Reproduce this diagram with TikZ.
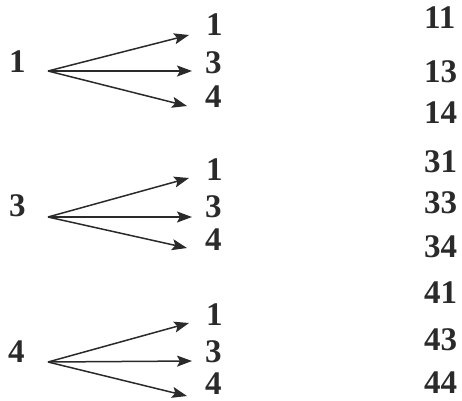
\documentclass[tikz,border=0pt]{standalone}
\usepackage{fontspec}
\setmainfont{Liberation Serif}
\usetikzlibrary{arrows.meta}
\definecolor{ink}{HTML}{2A2A2A}
\tikzset{
  num/.style={inner sep=0pt, anchor=base west, text=ink, font=\bfseries\fontsize{33}{33}\selectfont},
  arr/.style={draw=ink, line width=1.5pt, -{Stealth[length=15pt,width=11pt,inset=3pt]}}
}
\begin{document}
\begin{tikzpicture}[x=1pt,y=-1pt]
\useasboundingbox (0,0) rectangle (462,400);
% group 1
\node[num] (a) at (9,72) {1};
\coordinate (sa) at (48,71);
\node[num] (a1) at (206,35) {1};
\node[num] (a3) at (205,73) {3};
\node[num] (a4) at (205,107) {4};
\draw[arr] (sa) -- ([xshift=-17pt]a1.base west);
\draw[arr] (sa) -- ([xshift=-13pt,yshift=2pt]a3.base west);
\draw[arr] (sa) -- ([xshift=-18pt,yshift=1pt]a4.base west);
% group 2
\node[num] (b) at (9,216) {3};
\coordinate (sb) at (48,217);
\node[num] (b1) at (206,180) {1};
\node[num] (b3) at (205,217) {3};
\node[num] (b4) at (205,250) {4};
\draw[arr] (sb) -- ([xshift=-17pt,yshift=2pt]b1.base west);
\draw[arr] (sb) -- ([xshift=-13pt]b3.base west);
\draw[arr] (sb) -- ([xshift=-18pt,yshift=2pt]b4.base west);
% group 3
\node[num] (c) at (8,362) {4};
\coordinate (sc) at (48,362);
\node[num] (c1) at (206,325) {1};
\node[num] (c3) at (205,362) {3};
\node[num] (c4) at (205,394) {4};
\draw[arr] (sc) -- ([xshift=-17pt,yshift=2pt]c1.base west);
\draw[arr] (sc) -- ([xshift=-13pt,yshift=1pt]c3.base west);
\draw[arr] (sc) -- ([xshift=-18pt,yshift=-2pt]c4.base west);
% right column
\node[num] (r11) at (424,28) {11};
\node[num] (r13) at (424,82) {13};
\node[num] (r14) at (424,123) {14};
\node[num] (r31) at (424,172) {31};
\node[num] (r33) at (424,213) {33};
\node[num] (r34) at (424,257) {34};
\node[num] (r41) at (424,303) {41};
\node[num] (r43) at (424,350) {43};
\node[num] (r44) at (424,393) {44};
\end{tikzpicture}
\end{document}
